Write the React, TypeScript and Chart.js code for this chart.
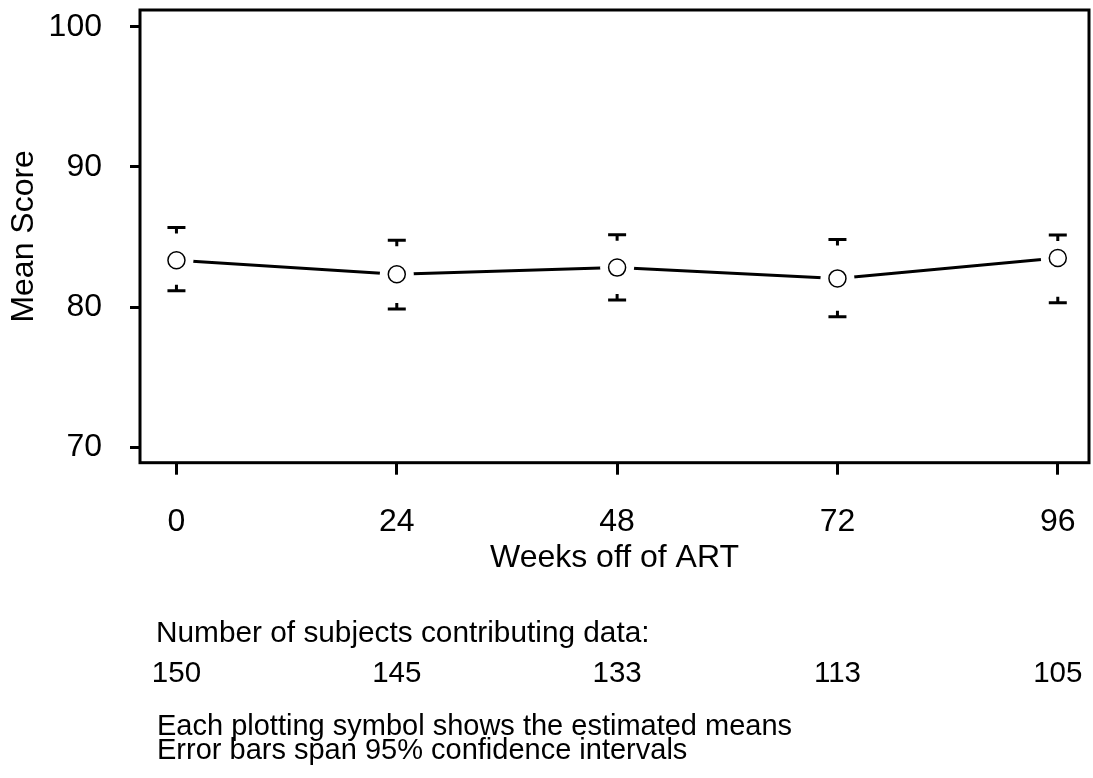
import React, { useEffect, useRef } from 'react';
import { Chart, registerables } from 'chart.js';

Chart.register(...registerables);

const weeks = [0, 24, 48, 72, 96];
const means = [83.35, 82.35, 82.82, 82.05, 83.5];
const upper = [85.68, 84.78, 85.16, 84.83, 85.14];
const lower = [81.16, 79.86, 80.5, 79.31, 80.31];
const subjects = [150, 145, 133, 113, 105];
const yTicks = [70, 80, 90, 100];
const xTicks = [0, 24, 48, 72, 96];
const yTitle = 'Mean Score';
const xTitle = 'Weeks off of ART';
const subjectsLabel = 'Number of subjects contributing data:';
const notes = [
  'Each plotting symbol shows the estimated means',
  'Error bars span 95% confidence intervals',
];

const FONT = '"Liberation Sans", Arial, Helvetica, sans-serif';

const zeroPad = (s: any) => {
  s.paddingTop = 0;
  s.paddingBottom = 0;
  s.paddingLeft = 0;
  s.paddingRight = 0;
};

const extras = {
  id: 'extras',
  afterDatasetsDraw(chart: any) {
    const { ctx, scales } = chart;
    const x = scales.x;
    const y = scales.y;
    ctx.save();
    ctx.strokeStyle = '#000';
    ctx.lineWidth = 3;
    ctx.lineCap = 'butt';
    weeks.forEach((w, i) => {
      const px = x.getPixelForValue(w);
      const yu = y.getPixelForValue(upper[i]);
      const yl = y.getPixelForValue(lower[i]);
      ctx.beginPath();
      ctx.moveTo(px - 9, yu);
      ctx.lineTo(px + 9, yu);
      ctx.moveTo(px, yu);
      ctx.lineTo(px, yu + 6);
      ctx.moveTo(px - 9, yl);
      ctx.lineTo(px + 9, yl);
      ctx.moveTo(px, yl);
      ctx.lineTo(px, yl - 6);
      ctx.stroke();
    });
    ctx.restore();
  },
  afterDraw(chart: any) {
    const { ctx, chartArea: ca, scales } = chart;
    const x = scales.x;
    ctx.save();
    ctx.strokeStyle = '#000';
    ctx.lineWidth = 3;
    ctx.strokeRect(ca.left, ca.top, ca.right - ca.left, ca.bottom - ca.top);
    ctx.fillStyle = '#000';
    ctx.textBaseline = 'alphabetic';
    ctx.textAlign = 'left';
    ctx.font = `29.8px ${FONT}`;
    ctx.fillText(subjectsLabel, 156, 642);
    ctx.textAlign = 'center';
    ctx.font = `29.5px ${FONT}`;
    subjects.forEach((n, i) => {
      ctx.fillText(String(n), x.getPixelForValue(weeks[i]), 681.5);
    });
    ctx.textAlign = 'left';
    ctx.font = `29px ${FONT}`;
    notes.forEach((t, i) => {
      ctx.fillText(t, 157, 735 + i * 24);
    });
    ctx.restore();
  },
};

export default function App() {
  const ref = useRef<HTMLCanvasElement>(null);
  useEffect(() => {
    const pts = weeks.map((w, i) => ({ x: w, y: means[i] }));
    const chart = new Chart(ref.current as HTMLCanvasElement, {
      type: 'line',
      data: {
        datasets: [
          {
            label: 'markers',
            data: pts,
            showLine: false,
            pointRadius: 8.5,
            pointBorderWidth: 1.5,
            pointBorderColor: '#000',
            pointBackgroundColor: '#fff',
            pointStyle: 'circle',
            order: 0,
          },
          {
            label: 'line',
            data: pts,
            borderColor: '#000',
            borderWidth: 3,
            pointRadius: 17,
            pointBorderWidth: 0,
            pointBackgroundColor: '#fff',
            pointBorderColor: '#fff',
            tension: 0,
            order: 1,
          },
        ],
      },
      options: {
        responsive: false,
        animation: false,
        devicePixelRatio: 1,
        events: [],
        layout: { autoPadding: false, padding: { top: 10, right: 4, bottom: 0, left: 0 } },
        plugins: {
          legend: { display: false },
          tooltip: { enabled: false },
        },
        scales: {
          x: {
            type: 'linear',
            min: -3.97,
            max: 99.4,
            afterBuildTicks: (s: any) => {
              s.ticks = xTicks.map((v) => ({ value: v }));
            },
            afterFit: (s: any) => {
              s.height = 778 - 462.7;
              zeroPad(s);
            },
            grid: {
              display: true,
              drawOnChartArea: false,
              drawTicks: true,
              tickLength: 12,
              lineWidth: 3,
              color: '#000',
            },
            border: { display: false },
            ticks: {
              color: '#000',
              font: { family: FONT, size: 32 },
              padding: 28,
              maxRotation: 0,
              autoSkip: false,
            },
            title: {
              display: true,
              text: xTitle,
              color: '#000',
              font: { family: FONT, size: 32 },
              padding: { top: 0, bottom: 201 },
            },
          },
          y: {
            type: 'linear',
            min: 68.9,
            max: 101.2,
            afterBuildTicks: (s: any) => {
              s.ticks = yTicks.map((v) => ({ value: v }));
            },
            afterFit: (s: any) => {
              s.width = 140;
              zeroPad(s);
            },
            grid: {
              display: true,
              drawOnChartArea: false,
              drawTicks: true,
              tickLength: 10,
              lineWidth: 3,
              color: '#000',
            },
            border: { display: false },
            ticks: {
              color: '#000',
              font: { family: FONT, size: 32 },
              padding: 28,
            },
            title: {
              display: true,
              text: yTitle,
              color: '#000',
              font: { family: FONT, size: 32 },
              padding: { top: 5, bottom: 0 },
            },
          },
        },
      } as any,
      plugins: [extras],
    });
    return () => chart.destroy();
  }, []);
  return (
    <div style={{ position: 'absolute', left: 0, top: 0, width: 1093, height: 778, background: '#fff' }}>
      <canvas ref={ref} width={1093} height={778} style={{ display: 'block' }} />
    </div>
  );
}
